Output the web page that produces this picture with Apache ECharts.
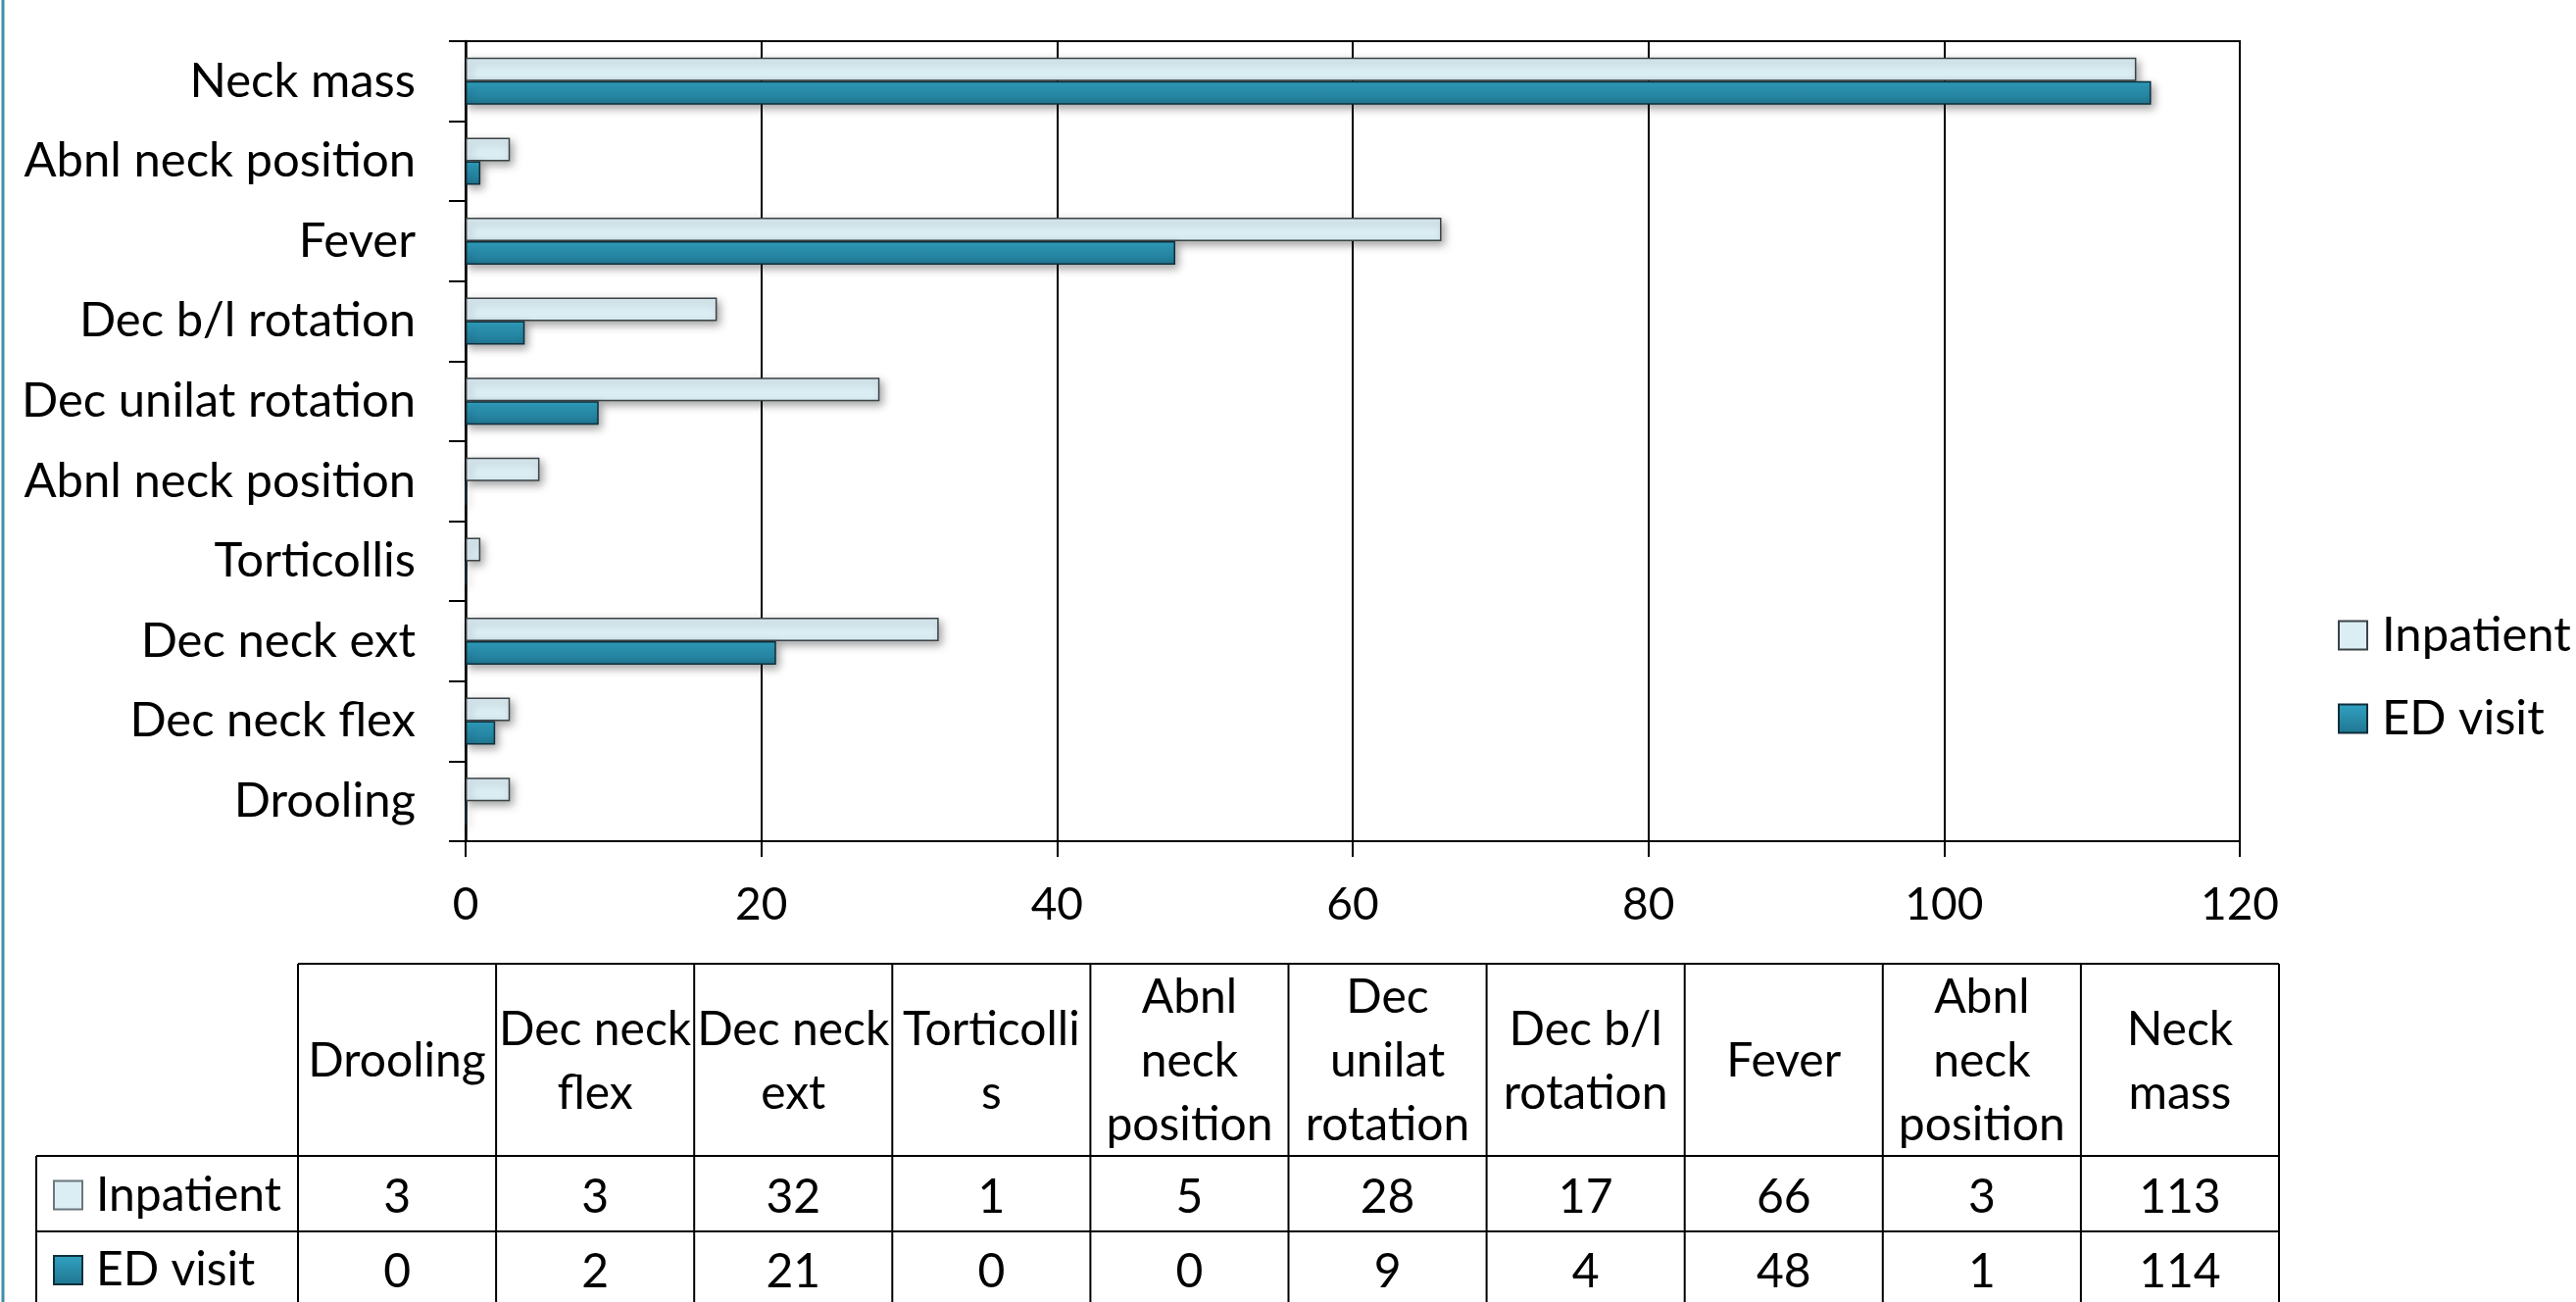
<!DOCTYPE html>
<html>
<head>
<meta charset="utf-8">
<script src="https://cdn.jsdelivr.net/npm/echarts@6/dist/echarts.min.js"></script>
<style>
  html, body { margin: 0; padding: 0; background: #fff; }
  #chart { width: 2628px; height: 1328px; }
</style>
</head>
<body>
<div id="chart"></div>
<script>
// Symptoms, listed bottom-to-top on the chart and left-to-right in the table
const symptoms = ['Drooling', 'Dec neck flex', 'Dec neck ext', 'Torticollis', 'Abnl neck position',
  'Dec unilat rotation', 'Dec b/l rotation', 'Fever', 'Abnl neck position', 'Neck mass'];
// Column headings of the data table (wrapped as they appear in the cells)
const tableHeaders = ['Drooling', 'Dec neck\nflex', 'Dec neck\next', 'Torticolli\ns', 'Abnl\nneck\nposition',
  'Dec\nunilat\nrotation', 'Dec b/l\nrotation', 'Fever', 'Abnl\nneck\nposition', 'Neck\nmass'];
const seriesNames = ['Inpatient', 'ED visit'];
const inpatient = [3, 3, 32, 1, 5, 28, 17, 66, 3, 113];
const edVisit = [0, 2, 21, 0, 0, 9, 4, 48, 1, 114];
const xTicks = [0, 20, 40, 60, 80, 100, 120];

const FONT = 'Lato, "Open Sans", sans-serif';
const inpatientFill = '#DBEEF4';
const inpatientBorder = '#3c4346';
const edFill = { type: 'linear', x: 0, y: 0, x2: 0, y2: 1,
  colorStops: [{ offset: 0, color: '#31A2C2' }, { offset: 1, color: '#1F7590' }] };
const edBorder = '#0f2f3a';

const chart = echarts.init(document.getElementById('chart'), null, { renderer: 'canvas' });

// Table geometry
const tbl = { left: 304, right: 2325, labelLeft: 37, top: 983, headerBottom: 1179, row1Bottom: 1256, bottom: 1340 };
const colW = (tbl.right - tbl.left) / tableHeaders.length;
const TABLE_FONT = 48;

function line(x1, y1, x2, y2, w) {
  return { type: 'line', silent: true, shape: { x1, y1, x2, y2 },
    style: { stroke: '#000', lineWidth: w || 2 } };
}
function text(str, x, y, align) {
  return { type: 'text', silent: true,
    style: { text: str, x, y, align: align || 'center', verticalAlign: 'middle',
      fontSize: TABLE_FONT, fontFamily: FONT, lineHeight: 65, fill: '#000' } };
}

const graphics = [];
// slide edge rule
graphics.push({ type: 'line', silent: true, shape: { x1: 3, y1: 0, x2: 3, y2: 1328 },
  style: { stroke: '#3f8dab', lineWidth: 3 } });
// table grid lines
graphics.push(line(tbl.left, tbl.top, tbl.right, tbl.top));
graphics.push(line(tbl.labelLeft, tbl.headerBottom, tbl.right, tbl.headerBottom));
graphics.push(line(tbl.labelLeft, tbl.row1Bottom, tbl.right, tbl.row1Bottom));
graphics.push(line(tbl.labelLeft, tbl.headerBottom, tbl.labelLeft, tbl.bottom));
for (let i = 0; i <= tableHeaders.length; i++) {
  const x = tbl.left + i * colW;
  graphics.push(line(x, tbl.top, x, tbl.bottom));
}
// headers and values
const rowVals = [inpatient, edVisit];
const rowMid = [(tbl.headerBottom + tbl.row1Bottom) / 2, (tbl.row1Bottom + tbl.bottom - 8) / 2];
tableHeaders.forEach((h, i) => {
  const cx = tbl.left + (i + 0.5) * colW;
  graphics.push(text(h, cx, (tbl.top + tbl.headerBottom) / 2 + 2));
  rowVals.forEach((vals, r) => graphics.push(text(String(vals[i]), cx, rowMid[r] + 4)));
});
// row labels with legend keys
seriesNames.forEach((name, r) => {
  graphics.push({ type: 'rect', silent: true,
    shape: { x: 55, y: rowMid[r] - 13, width: 29, height: 29 },
    style: { fill: r === 0 ? inpatientFill : edFill, stroke: r === 0 ? '#6b777c' : edBorder, lineWidth: 2 } });
  graphics.push(text(name, 98, rowMid[r] + 2, 'left'));
});

const barShadow = { shadowBlur: 8, shadowOffsetX: 3, shadowOffsetY: 4, shadowColor: 'rgba(0,0,0,0.35)' };

chart.setOption({
  animation: false,
  backgroundColor: '#fff',
  textStyle: { fontFamily: FONT },
  grid: { left: 475, right: 343, top: 42, height: 816, show: true, borderColor: '#000', borderWidth: 2,
    backgroundColor: 'transparent' },
  legend: {
    orient: 'vertical', left: 2380, top: 617, itemWidth: 29, itemHeight: 29, itemGap: 33,
    icon: 'rect',
    textStyle: { fontSize: 49, fontFamily: FONT, color: '#000', lineHeight: 52, padding: [0, 0, 0, 10] },
    data: seriesNames
  },
  xAxis: {
    type: 'value', min: xTicks[0], max: xTicks[xTicks.length - 1], interval: xTicks[1] - xTicks[0],
    axisLine: { show: true, lineStyle: { color: '#000', width: 2 } },
    axisTick: { show: true, length: 16, lineStyle: { color: '#000', width: 2 } },
    splitLine: { show: true, lineStyle: { color: '#000', width: 2 } },
    axisLabel: { fontSize: 46, fontFamily: FONT, color: '#000', margin: 42 }
  },
  yAxis: {
    type: 'category', data: symptoms,
    axisLine: { show: true, lineStyle: { color: '#000', width: 2.5 } },
    axisTick: { show: true, length: 17, lineStyle: { color: '#000', width: 2 } },
    axisLabel: { fontSize: 49, fontFamily: FONT, color: '#000', margin: 51, interval: 0 }
  },
  series: [
    { name: seriesNames[0], type: 'bar', data: inpatient, barWidth: 24, barGap: '0%',
      itemStyle: Object.assign({ color: inpatientFill, borderColor: inpatientBorder, borderWidth: 1.5 }, barShadow) },
    { name: seriesNames[1], type: 'bar', data: edVisit, barWidth: 24, barGap: '0%',
      itemStyle: Object.assign({ color: edFill, borderColor: edBorder, borderWidth: 1.5 }, barShadow) }
  ],
  graphic: graphics
});
</script>
</body>
</html>
